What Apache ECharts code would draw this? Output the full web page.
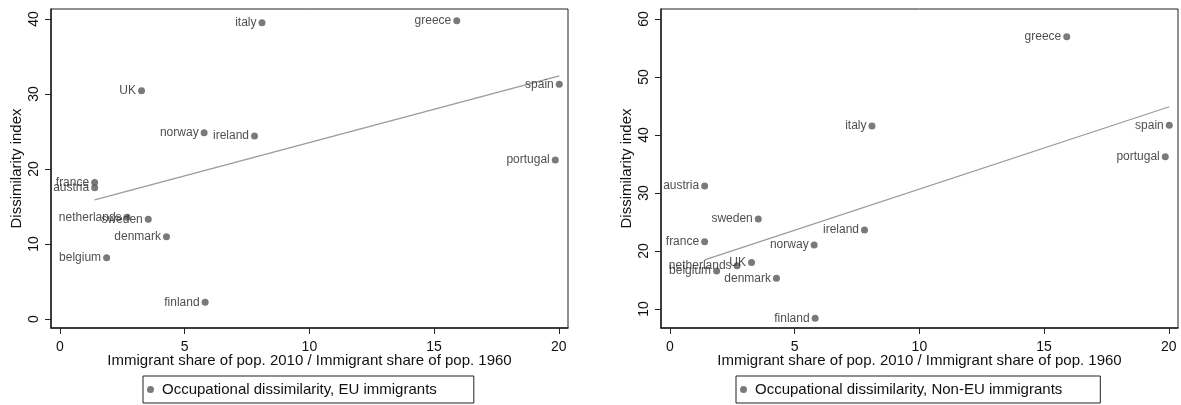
<!DOCTYPE html>
<html>
<head>
<meta charset="utf-8">
<script src="https://cdn.jsdelivr.net/npm/echarts@6/dist/echarts.min.js"></script>
<style>
html,body{margin:0;padding:0;background:#fff;}
#c{width:1181px;height:405px;}
</style>
</head>
<body>
<div id="c"></div>
<script>
const countries = ['italy','UK','norway','ireland','france','austria','netherlands','sweden','denmark','belgium','finland','greece','spain','portugal'];
const shareRatio = [8.1, 3.27, 5.78, 7.8, 1.39, 1.39, 2.69, 3.54, 4.27, 1.87, 5.82, 15.91, 20.02, 19.86];
const dissimEU = [39.5, 30.44, 24.84, 24.4, 18.2, 17.5, 13.55, 13.3, 10.98, 8.17, 2.22, 39.78, 31.29, 21.2];
const dissimNonEU = [41.55, 18.0, 21.03, 23.6, 21.6, 31.2, 17.47, 25.5, 15.3, 16.55, 8.4, 56.95, 41.67, 36.26];
const xTicks = [0, 5, 10, 15, 20];
const yTicksEU = [0, 10, 20, 30, 40];
const yTicksNonEU = [10, 20, 30, 40, 50, 60];
const seriesNames = ['Occupational dissimilarity, EU immigrants', 'Occupational dissimilarity, Non-EU immigrants'];
const xTitle = 'Immigrant share of pop. 2010 / Immigrant share of pop. 1960';
const yTitle = 'Dissimilarity index';

const FONT = '"Liberation Sans", Arial, sans-serif';

function fitLine(xs, ys) {
  const n = xs.length;
  const mx = xs.reduce((a, b) => a + b, 0) / n;
  const my = ys.reduce((a, b) => a + b, 0) / n;
  let sxy = 0, sxx = 0;
  for (let i = 0; i < n; i++) { sxy += (xs[i] - mx) * (ys[i] - my); sxx += (xs[i] - mx) ** 2; }
  const b = sxy / sxx, a = my - b * mx;
  const x0 = Math.min(...xs), x1 = Math.max(...xs);
  return [[x0, a + b * x0], [x1, a + b * x1]];
}
function points(ys) {
  return countries.map((c, i) => ({ name: c, value: [shareRatio[i], ys[i]] }));
}

const grids = [
  { left: 51, top: 9, width: 517, height: 319 },
  { left: 661, top: 9, width: 517, height: 319 }
];

function xAxisFor(gi) {
  return {
    type: 'value', gridIndex: gi, min: -0.36, max: 20.37,
    name: xTitle, nameLocation: 'middle', nameGap: 25, nameMoveOverlap: false,
    nameTextStyle: { fontFamily: FONT, fontSize: 15, color: '#111' },
    axisLine: { show: true, onZero: false, lineStyle: { color: '#222', width: 1.5 } },
    axisTick: { show: true, length: 6, customValues: xTicks, lineStyle: { color: '#222', width: 1 } },
    axisLabel: { customValues: xTicks, margin: 12, fontFamily: FONT, fontSize: 14, color: '#111' },
    splitLine: { show: false }
  };
}
function yAxisFor(gi, min, max, ticks) {
  return {
    type: 'value', gridIndex: gi, min: min, max: max,
    name: yTitle, nameLocation: 'middle', nameGap: 27,
    nameTextStyle: { fontFamily: FONT, fontSize: 15, color: '#111' },
    axisLine: { show: true, onZero: false, lineStyle: { color: '#222', width: 1.5 } },
    axisTick: { show: true, length: 6, customValues: ticks, lineStyle: { color: '#222', width: 1 } },
    axisLabel: { customValues: ticks, rotate: 90, margin: 10, fontFamily: FONT, fontSize: 14, color: '#111' },
    splitLine: { show: false }
  };
}

function scatterFor(gi, name, ys) {
  return {
    name: name, type: 'scatter', xAxisIndex: gi, yAxisIndex: gi,
    data: points(ys), symbol: 'circle', symbolSize: 7,
    itemStyle: { color: '#595959' },
    label: { show: true, position: 'left', distance: 2, formatter: p => p.name,
      fontFamily: FONT, fontSize: 12, color: '#222' },
    z: 3
  };
}
function fitFor(gi, ys) {
  return {
    name: 'fit' + gi, type: 'line', xAxisIndex: gi, yAxisIndex: gi,
    data: fitLine(shareRatio, ys), symbol: 'none', silent: true,
    lineStyle: { color: '#9a9a9a', width: 1.2 }, z: 2
  };
}

const chart = echarts.init(document.getElementById('c'), null, { renderer: 'canvas' });
chart.setOption({
  animation: false,
  backgroundColor: '#fff',
  grid: grids.map(g => Object.assign({ show: true, borderColor: '#222', borderWidth: 1, backgroundColor: 'transparent' }, g)),
  xAxis: [xAxisFor(0), xAxisFor(1)],
  yAxis: [yAxisFor(0, -1.2, 41.33, yTicksEU), yAxisFor(1, 6.72, 61.72, yTicksNonEU)],
  legend: [
    { data: [seriesNames[0]], left: 143, top: 376, orient: 'horizontal',
      icon: 'circle', itemWidth: 13, itemHeight: 7,
      padding: [6, 37, 6, 4], borderColor: '#222', borderWidth: 1,
      textStyle: { fontFamily: FONT, fontSize: 15, color: '#111' }, selectedMode: false },
    { data: [seriesNames[1]], left: 736, top: 376, orient: 'horizontal',
      icon: 'circle', itemWidth: 13, itemHeight: 7,
      padding: [6, 38, 6, 4], borderColor: '#222', borderWidth: 1,
      textStyle: { fontFamily: FONT, fontSize: 15, color: '#111' }, selectedMode: false }
  ],
  series: [
    fitFor(0, dissimEU), scatterFor(0, seriesNames[0], dissimEU),
    fitFor(1, dissimNonEU), scatterFor(1, seriesNames[1], dissimNonEU)
  ]
});
</script>
</body>
</html>
